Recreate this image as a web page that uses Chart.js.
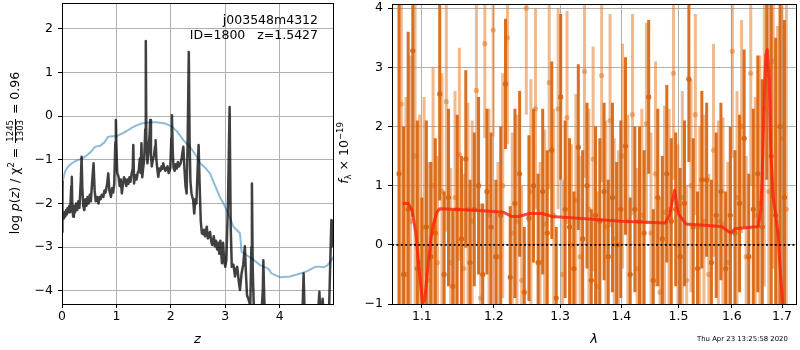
<!DOCTYPE html>
<html><head><meta charset="utf-8">
<script src="https://cdn.jsdelivr.net/npm/chart.js@4.4.1/dist/chart.umd.min.js"></script>
<style>
html,body{margin:0;padding:0;background:#fff;}
body{width:800px;height:350px;position:relative;overflow:hidden;font-family:"DejaVu Sans",sans-serif;color:#000;}
canvas{position:absolute;top:0;}
#c1{left:0;} #c2{left:345px;}
.t{position:absolute;white-space:nowrap;font-family:"DejaVu Sans",sans-serif;color:#000;}
.rot{transform:rotate(-90deg);transform-origin:50% 50%;font-size:12.5px;line-height:16px;height:16px;text-align:center;}
.frac{display:inline-block;vertical-align:middle;text-align:center;font-size:8.5px;line-height:9px;margin:0 1px;}
.frac span{display:block;padding:0 1px;}
.frac .num{border-bottom:1px solid #000;}
sup{font-size:8.5px;vertical-align:5px;line-height:0;}
sub{font-size:8.5px;vertical-align:-3px;line-height:0;}
</style></head><body>
<canvas id="c1" width="345" height="350"></canvas>
<canvas id="c2" width="455" height="350"></canvas>
<div class="t rot" style="left:-106px;top:145px;width:240px;">log <i>p</i>(<i>z</i>) / χ<sup>2</sup> = <span class="frac"><span class="num">1245</span><span>1303</span></span> = 0.96</div>
<div class="t rot" style="left:294px;top:145px;width:100px;"><i>f</i><sub>λ</sub> × 10<sup>−19</sup></div>
<div class="t" style="right:482px;top:12px;text-align:right;font-size:12.5px;line-height:15px;">j003548m4312<br>ID=1800&nbsp;&nbsp;&nbsp;z=1.5427</div>
<div class="t" style="left:697px;top:335px;font-size:6.9px;line-height:8px;">Thu Apr 23 13:25:58 2020</div>
<script>
// ---------------- Left panel data: log p(z) ----------------
const zGrid = [0.000,0.005,0.010,0.020,0.030,0.045,0.060,0.075,0.090,0.105,0.120,0.135,0.150,0.170,0.180,0.190,0.205,0.220,0.240,0.260,
0.280,0.300,0.320,0.345,0.360,0.375,0.390,0.410,0.430,0.450,0.470,0.490,0.510,0.530,0.560,0.580,0.600,0.620,0.645,0.670,
0.690,0.710,0.730,0.760,0.780,0.800,0.830,0.850,0.870,0.900,0.920,0.940,0.960,0.980,0.990,1.000,1.015,1.040,1.060,1.080,
1.100,1.120,1.140,1.160,1.180,1.200,1.220,1.240,1.260,1.280,1.300,1.310,1.325,1.345,1.370,1.390,1.410,1.430,1.445,1.460,
1.475,1.490,1.510,1.530,1.540,1.550,1.570,1.590,1.610,1.620,1.635,1.650,1.670,1.690,1.710,1.720,1.735,1.755,1.770,1.790,
1.810,1.830,1.850,1.860,1.880,1.900,1.920,1.940,1.960,1.990,2.010,2.020,2.035,2.050,2.070,2.090,2.110,2.130,2.150,2.180,
2.200,2.230,2.250,2.270,2.290,2.310,2.330,2.345,2.360,2.380,2.395,2.410,2.430,2.450,2.470,2.490,2.510,2.530,2.550,2.570,
2.590,2.610,2.630,2.660,2.680,2.700,2.720,2.740,2.760,2.790,2.810,2.830,2.850,2.870,2.890,2.910,2.940,2.960,2.980,3.000,
3.020,3.050,3.080,3.100,3.120,3.150,3.180,3.200,3.220,3.250,3.270,3.300,3.330,3.360,3.380,3.400,3.430,3.460,3.480,3.490,
3.505,3.530,3.560,3.600,3.650,3.690,3.700,3.715,3.740,3.800,3.900,4.000,4.200,4.350,4.420,4.440,4.460,4.550,4.680,4.730,
4.750,4.790,4.810,4.900,4.950,4.965,4.980];
const logPz = [-2.65,-1.50,-2.40,-2.25,-2.35,-2.20,-2.30,-2.15,-2.25,-2.10,-2.20,-2.05,-2.20,-1.60,-1.39,-2.10,-2.30,-2.05,-2.20,-2.00,
-2.15,-1.95,-2.10,-1.50,-0.93,-1.70,-2.05,-2.15,-1.90,-2.05,-1.85,-2.00,-1.80,-1.95,-1.40,-1.08,-1.70,-1.95,-1.85,-2.00,
-1.85,-1.90,-1.80,-1.85,-1.70,-1.75,-1.55,-1.31,-1.70,-1.85,-1.65,-1.75,-1.55,-0.60,-0.09,-0.70,-1.30,-1.39,-1.60,-1.45,
-1.77,-1.55,-1.40,-1.46,-1.60,-1.45,-1.55,-1.40,-1.50,-1.31,-1.20,-0.66,-1.54,-1.35,-1.45,-1.30,-1.25,-0.97,-1.30,-0.62,
-1.40,-1.20,-1.00,-0.30,1.72,-0.50,-1.08,-0.80,-0.40,-0.09,-0.90,-1.15,-1.00,-0.90,-0.70,-0.55,-1.00,-1.25,-1.39,-1.20,
-1.25,-1.15,-1.20,-1.08,-1.18,-1.25,-1.20,-1.15,-1.30,-1.20,-0.50,0.02,-0.80,-1.18,-1.25,-1.10,-1.20,-1.05,-1.15,-1.08,
-0.95,-0.70,-1.20,-1.60,-1.77,-0.50,1.47,-0.60,-1.50,-1.77,-1.85,-1.92,-2.23,-1.90,-2.00,-1.30,-0.66,-1.60,-2.40,-2.68,
-2.70,-2.60,-2.75,-2.53,-2.80,-2.74,-2.65,-2.85,-2.95,-2.75,-2.98,-2.85,-3.05,-2.90,-3.15,-2.85,-3.37,-2.90,-3.30,-3.45,
-3.30,-2.00,0.21,-2.50,-3.45,-3.40,-3.67,-3.50,-3.45,-3.80,-3.98,-3.60,-3.40,-2.98,-3.60,-4.10,-4.20,-4.35,-3.00,-1.54,
-3.50,-4.60,-5.00,-5.20,-4.80,-4.00,-3.30,-4.10,-5.00,-5.50,-5.80,-5.50,-5.80,-5.30,-4.50,-3.60,-4.60,-5.50,-5.00,-4.02,
-4.60,-4.18,-4.60,-4.80,-2.38,-2.40,-3.00];
const zSmooth = [0.00,0.02,0.055,0.10,0.18,0.26,0.33,0.40,0.48,0.55,0.61,0.70,0.78,0.85,0.92,1.00,1.10,1.19,1.28,1.37,
1.46,1.56,1.65,1.72,1.80,1.90,2.02,2.12,2.23,2.35,2.48,2.54,2.63,2.72,2.80,2.90,2.97,3.06,3.15,3.27,
3.30,3.40,3.49,3.64,3.79,3.85,4.01,4.19,4.30,4.44,4.55,4.65,4.74,4.80,4.87,4.93,4.99];
const logPzSmooth = [-1.65,-1.45,-1.27,-1.17,-1.08,-1.02,-0.99,-0.95,-0.87,-0.79,-0.70,-0.68,-0.60,-0.47,-0.46,-0.46,-0.40,-0.34,-0.27,-0.21,
-0.17,-0.15,-0.14,-0.14,-0.15,-0.17,-0.24,-0.36,-0.55,-0.70,-0.93,-1.08,-1.18,-1.31,-1.55,-1.85,-2.00,-2.25,-2.53,-2.68,
-3.10,-3.19,-3.26,-3.41,-3.49,-3.60,-3.69,-3.67,-3.63,-3.58,-3.52,-3.45,-3.45,-3.46,-3.42,-3.33,-3.22];
const leftXTicks = [0,1,2,3,4];
const leftYTicks = [-4,-3,-2,-1,0,1,2];
const zMin = 0, zMax = 4.98, pMin = -4.3, pMax = 2.59;

// ---------------- Right panel data: spectrum ----------------
const lamDark = [1.070,1.076,1.082,1.088,1.094,1.100,1.106,1.112,1.118,1.124,1.130,1.136,1.142,1.148,1.154,1.160,1.166,1.172,1.178,1.184,1.190,1.196,
1.203,1.210,1.217,1.224,1.231,1.238,1.245,1.252,1.259,1.266,1.273,1.280,1.287,1.294,1.301,1.308,1.315,1.322,1.329,1.336,1.343,1.350,1.357,1.364,1.371,1.378,1.385,1.392,1.399,
1.407,1.415,1.423,1.431,1.439,1.447,1.455,1.463,1.471,1.479,1.487,1.495,1.503,1.511,1.519,1.527,1.535,1.543,
1.552,1.561,1.570,1.579,1.588,1.597,1.606,1.615,1.624,1.633,1.642,1.651,1.660,1.669,1.678,1.687,1.696,1.705];
const fluxDark = [1.2,-0.5,0.6,3.28,-0.4,-1.2,0.3,-0.2,0.2,2.55,-0.5,0.8,-0.7,0.6,0.1,1.45,-0.3,0.6,1.0,-0.5,0.9,0.3,
-0.2,0.5,2.72,-0.55,0.7,1.2,-0.8,0.45,1.0,-0.3,0.9,0.2,1.6,-0.9,2.5,0.6,0.3,-0.4,1.65,0.1,1.0,-0.6,0.5,0.4,0.9,-0.2,0.8,0.0,0.6,
1.67,-0.5,0.6,0.4,0.2,2.5,-0.6,0.8,0.1,1.2,0.4,0.6,-0.2,0.7,2.8,0.3,-0.4,1.1,
1.1,-0.3,0.5,0.9,-0.4,0.5,0.2,0.7,1.8,-0.2,0.6,1.2,0.3,4.1,1.5,0.5,2.0,0.8];
const errDark = [3.5,2.5,3.0,2.8,2.5,2.0,1.8,1.6,1.6,1.8,1.4,1.5,1.3,1.6,1.4,1.5,1.4,1.3,1.5,1.2,1.4,1.6,
1.3,1.5,1.1,1.2,1.6,1.4,1.1,1.4,1.3,1.5,1.4,1.4,1.5,1.2,1.4,1.5,1.5,1.3,1.4,1.5,1.4,1.2,1.5,1.4,1.5,1.3,1.6,1.4,1.5,
1.5,1.3,1.4,1.6,1.4,1.3,1.2,1.5,1.4,1.5,1.4,1.3,1.5,1.4,1.4,1.5,1.3,1.5,
1.3,1.4,1.4,1.5,1.3,1.5,1.4,1.5,1.5,1.4,1.7,2.0,2.5,3.0,3.5,3.0,3.5,3.0];
const lamLight = [1.073,1.079,1.085,1.091,1.097,1.103,1.109,1.115,1.121,1.127,1.133,1.139,1.145,1.151,1.157,1.163,1.169,1.175,1.181,1.187,1.193,1.199,
1.206,1.213,1.220,1.227,1.234,1.241,1.248,1.255,1.262,1.269,1.276,1.283,1.290,1.297,1.304,1.311,1.318,1.325,1.332,1.339,1.346,1.353,1.360,1.367,1.374,1.381,1.388,1.395,1.402,
1.411,1.419,1.427,1.435,1.443,1.451,1.459,1.467,1.475,1.483,1.491,1.499,1.507,1.515,1.523,1.531,1.539,1.547,
1.556,1.565,1.574,1.583,1.592,1.601,1.610,1.619,1.628,1.637,1.646,1.655,1.664,1.673,1.682,1.691,1.700,1.709];
const fluxLight = [2.38,-0.5,0.4,1.5,-0.3,0.3,-0.6,1.0,-0.3,0.9,2.42,-0.3,0.8,1.53,-0.4,0.6,0.4,2.61,-0.9,3.4,0.5,3.63,
-0.2,1.0,3.5,0.2,0.4,-0.6,4.0,0.9,2.3,-0.3,0.35,2.74,0.5,2.3,-0.5,2.15,0.0,0.75,-0.2,2.93,0.6,1.45,-0.7,2.86,0.3,2.1,0.1,0.0,1.5,
0.4,2.2,-0.4,0.5,2.05,0.2,1.2,-0.8,0.55,0.6,2.9,0.0,0.8,-0.6,1.0,2.2,0.3,0.4,
-0.5,1.6,0.4,0.35,-0.3,3.27,0.8,2.0,-0.2,2.9,0.5,0.7,2.3,0.9,3.1,0.2,1.8,0.6];
const errLight = [3.5,3.0,2.8,3.0,2.5,2.2,2.0,2.0,1.8,2.0,2.2,1.6,1.8,1.8,1.6,1.8,1.7,2.0,1.6,1.6,1.8,1.8,
1.6,1.9,1.8,1.7,1.8,1.6,1.8,1.9,1.7,1.7,1.6,1.8,1.8,1.7,1.6,1.8,1.7,1.8,1.7,1.8,1.7,1.9,1.6,1.8,1.8,1.8,1.7,1.6,1.9,
1.8,1.7,1.7,1.8,1.7,1.7,1.9,1.6,1.8,1.7,1.8,1.7,1.8,1.6,1.8,1.7,1.7,1.8,
1.7,1.8,1.7,1.8,1.7,1.8,1.8,1.8,1.7,1.9,2.0,2.5,3.0,3.5,3.5,3.5,3.5,3.5];
const lamModel = [1.075,1.082,1.087,1.092,1.097,1.101,1.104,1.108,1.112,1.115,1.120,1.124,1.140,1.164,1.190,1.214,1.226,1.236,1.253,1.272,
1.287,1.341,1.400,1.476,1.484,1.493,1.500,1.514,1.580,1.598,1.606,1.652,1.657,1.660,1.663,1.667,1.670,1.674,1.677,1.682,1.692,1.697,1.702];
const fluxModel = [0.70,0.70,0.58,0.20,-0.50,-1.00,-0.90,-0.38,0.10,0.32,0.55,0.61,0.60,0.59,0.57,0.55,0.48,0.48,0.53,0.53,
0.48,0.44,0.40,0.37,0.50,0.92,0.52,0.35,0.31,0.20,0.27,0.31,0.60,1.20,2.20,3.20,3.30,2.80,1.60,0.80,0.19,-0.50,-1.05];
const zeroLevel = [0];
const rightXTicks = [1.1,1.2,1.3,1.4,1.5,1.6,1.7];
const rightYTicks = [-1,0,1,2,3,4];
const lamMin = 1.061, lamMax = 1.729, fMin = -1, fMax = 4.07;

// ---------------- Rendering ----------------
Chart.defaults.font.family = 'DejaVu Sans';
Chart.defaults.font.size = 12.5;
Chart.defaults.color = '#000';

const minus = v => (v < 0 ? '\u2212' + Math.abs(v) : String(v));
const frame = { id: 'frame', afterDatasetsDraw(chart) {
  const {ctx, chartArea: a} = chart;
  ctx.save(); ctx.strokeStyle = '#000'; ctx.lineWidth = 1;
  ctx.strokeRect(a.left + 0.5, a.top + 0.5, a.right - a.left, a.bottom - a.top);
  ctx.restore();
}};
const gridOpts = {color: '#b0b0b0', lineWidth: 1, tickColor: '#000', tickLength: 4, tickWidth: 1};
function xAxis(type, min, max, ticksArr, fmt, title, extra) {
  return Object.assign({
    type, min, max, bounds: 'data', grid: gridOpts, border: {display: false},
    ticks: {autoSkip: false, maxRotation: 0, padding: 2, font: {size: 12.5, lineHeight: 1}, callback: fmt},
    title: {display: true, text: title, font: {size: 13, style: 'italic'}, padding: {top: 0, bottom: 3}},
    afterBuildTicks: s => { s.ticks = ticksArr.map(v => ({value: v})); },
    afterFit: s => { s.height = 46; s.paddingLeft = 0; s.paddingRight = 0; }
  }, extra || {});
}
function yAxis(min, max, ticksArr, width) {
  return {
    type: 'linear', min, max, bounds: 'data', stacked: false, grid: gridOpts, border: {display: false},
    ticks: {autoSkip: false, padding: 5, font: {size: 12.5}, callback: v => minus(v)},
    afterBuildTicks: s => { s.ticks = ticksArr.map(v => ({value: v})); },
    afterFit: s => { s.width = width; s.paddingTop = 0; s.paddingBottom = 0; }
  };
}
const common = {responsive: false, devicePixelRatio: 1, animation: false, events: [],
  plugins: {legend: {display: false}, tooltip: {enabled: false}}};

new Chart(document.getElementById('c1'), {
  type: 'scatter',
  data: {datasets: [
    {type: 'line', data: zGrid.map((z, i) => ({x: z, y: logPz[i]})), borderColor: 'rgba(0,0,0,0.75)', borderWidth: 2.5,
     pointRadius: 0, tension: 0, borderJoinStyle: 'round', clip: 0, order: 0},
    {type: 'line', data: zSmooth.map((z, i) => ({x: z, y: logPzSmooth[i]})), borderColor: 'rgba(31,119,180,0.5)', borderWidth: 2,
     pointRadius: 0, tension: 0, borderJoinStyle: 'round', clip: 0, order: 1}
  ]},
  options: Object.assign({}, common, {
    layout: {padding: {left: 0, right: 12, top: 3, bottom: 0}},
    scales: {
      x: xAxis('linear', zMin, zMax, leftXTicks, v => minus(v), 'z'),
      y: yAxis(pMin, pMax, leftYTicks, 62)
    }
  }),
  plugins: [frame]
});

const errPath = (lam, f, e) => lam.flatMap((l, i) => [{x: l, y: f[i] - e[i]}, {x: l, y: f[i] + e[i]}, {x: l, y: null}]);
const DARK = 'rgba(215,100,15,0.92)', LIGHT = 'rgba(226,115,30,0.5)';
new Chart(document.getElementById('c2'), {
  type: 'scatter',
  data: {datasets: [
    {type: 'line', data: [{x: lamMin, y: zeroLevel[0]}, {x: lamMax, y: zeroLevel[0]}], borderColor: '#000', borderWidth: 1.8,
     borderDash: [2, 2.4], pointRadius: 0, clip: 0, order: 0},
    {type: 'line', data: lamModel.map((l, i) => ({x: l, y: fluxModel[i]})), borderColor: 'rgba(255,30,10,0.8)', borderWidth: 3,
     pointRadius: 0, tension: 0, borderJoinStyle: 'round', clip: 0, order: 1},
    {type: 'scatter', data: lamDark.map((l, i) => ({x: l, y: fluxDark[i]})), pointRadius: 2.6, pointBorderWidth: 0,
     pointBackgroundColor: DARK, clip: 0, order: 2},
    {type: 'line', data: errPath(lamDark, fluxDark, errDark), borderColor: DARK, borderWidth: 3, borderCapStyle: 'butt',
     pointRadius: 0, spanGaps: false, clip: 0, order: 3},
    {type: 'scatter', data: lamLight.map((l, i) => ({x: l, y: fluxLight[i]})), pointRadius: 2.6, pointBorderWidth: 0,
     pointBackgroundColor: LIGHT, clip: 0, order: 4},
    {type: 'line', data: errPath(lamLight, fluxLight, errLight), borderColor: LIGHT, borderWidth: 3, borderCapStyle: 'butt',
     pointRadius: 0, spanGaps: false, clip: 0, order: 5}
  ]},
  options: Object.assign({}, common, {
    layout: {padding: {left: 0, right: 2, top: 3, bottom: 0}},
    scales: {
      x: xAxis('logarithmic', lamMin, lamMax, rightXTicks, v => Number(v).toFixed(1), 'λ'),
      y: yAxis(fMin, fMax, rightYTicks, 47)
    }
  }),
  plugins: [frame]
});
</script>
</body></html>
